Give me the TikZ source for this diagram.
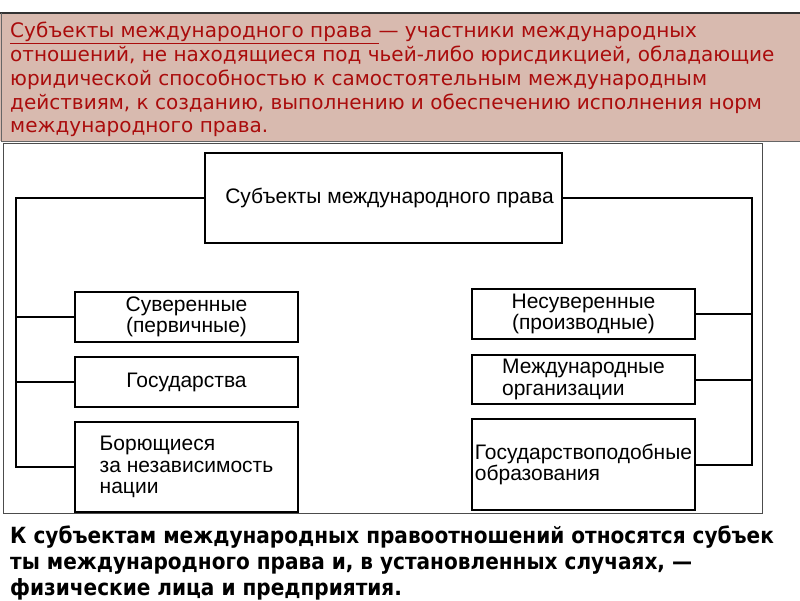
\documentclass[tikz,border=0pt]{standalone}
\usepackage{fontspec}
\setmainfont{Liberation Sans}
\newfontfamily\defnfont{DejaVu Sans}
\newfontfamily\condfont{DejaVu Sans Condensed}
\usetikzlibrary{positioning}
\definecolor{defred}{RGB}{170,12,12}
\definecolor{defbg}{RGB}{216,186,175}

\begin{document}
\begin{tikzpicture}[
	x=1pt,y=-1pt,
	% Box style
	subj/.style={rectangle,draw,line width=2pt,inner sep=0pt,minimum width=223,font=\fontsize{21}{21.5}\selectfont,align=center},
	% Text styles
	defn/.style={anchor=north west,inner sep=0pt,align=left,text=defred,font=\defnfont\fontsize{20}{23.8}\selectfont},
	note/.style={anchor=north west,inner sep=0pt,align=left,font=\condfont\bfseries\fontsize{22.3}{26}\selectfont},
	% Connector style
	link/.style={line width=2pt}
	]
	\useasboundingbox (0,0) rectangle (800,600);
	\fill[white] (0,0) rectangle (800,600);
	%% Definition panel
	\fill[defbg] (0,13) rectangle (800,141);
	\draw[black!80,line width=1.2pt] (0,13) -- (800,13);
	\draw[black!60] (1,13) -- (1,141) -- (800,141);
	\node (defn) [defn] at (10,22) {\underline{Субъекты международного права\ }— участники международных\\отношений, не находящиеся под чьей-либо юрисдикцией, обладающие\\юридической способностью к самостоятельным международным\\действиям, к созданию, выполнению и обеспечению исполнения норм\\международного права.};
	%% Scheme frame
	\draw[black!70] (3,143) rectangle (762,513);
	%% Boxes
	\node (main) [subj,minimum width=357,minimum height=90] at (383.5,198) {\hspace{12pt}Субъекты международного права};
	\node (sov) [subj,minimum height=50] at (186.5,317) {Суверенные\\(первичные)};
	\node (state) [subj,minimum height=50] at (186.5,382) {Государства};
	\node (nation) [subj,minimum height=90,align=left] at (186.5,467) {Борющиеся\\за независимость\\нации};
	\node (nonsov) [subj,minimum height=50] at (583.5,314) {Несуверенные\\(производные)};
	\node (org) [subj,minimum height=49,align=left] at (583.5,379.5) {Международные\\организации};
	\node (quasi) [subj,minimum height=91,align=left] at (583.5,464.5) {Государствоподобные\\образования};
	%% Connectors
	\coordinate (lbus) at (16,198);
	\coordinate (rbus) at (752,198);
	\draw [link] (main.west) -- (lbus) |- (nation.west);
	\draw [link] (sov.west) -- (sov.west -| lbus);
	\draw [link] (state.west) -- (state.west -| lbus);
	\draw [link] (main.east) -- (rbus) |- (quasi.east);
	\draw [link] (nonsov.east) -- (nonsov.east -| rbus);
	\draw [link] (org.east) -- (org.east -| rbus);
	%% Note below
	\node (note) [note] at (10,526) {К субъектам международных правоотношений относятся субъек\\ты международного права и, в установленных случаях, —\\физические лица и предприятия.};
\end{tikzpicture}
\end{document}
